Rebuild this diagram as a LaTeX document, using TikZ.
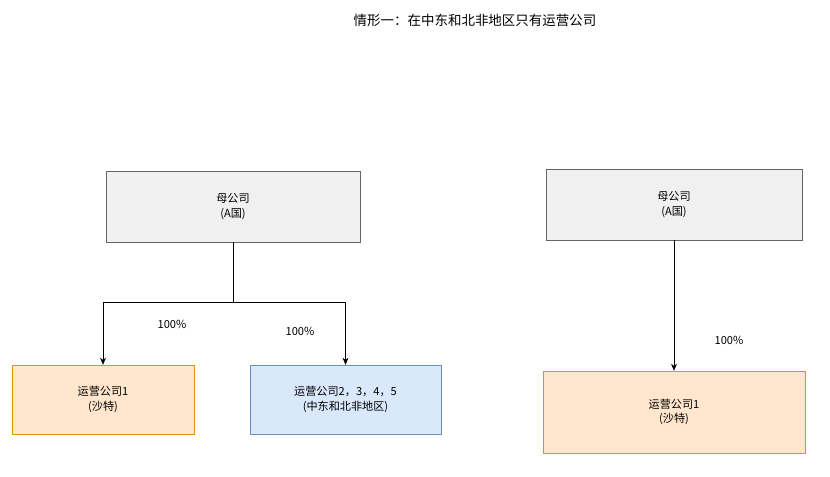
\documentclass[tikz,border=0pt]{standalone}
\usepackage{fontspec}
\newfontfamily\cjk{Noto Sans CJK SC}
\usetikzlibrary{positioning, calc, arrows.meta}
\definecolor{grayfill}{HTML}{F0F0F0}
\definecolor{grayline}{HTML}{666666}
\definecolor{orangefill}{HTML}{FFE6CC}
\definecolor{orangeline}{HTML}{D79B00}
\definecolor{bluefill}{HTML}{DAE8FC}
\definecolor{blueline}{HTML}{6C8EBF}
\tikzset{
   box/.style={
     draw, align=center, font=\cjk\fontsize{9.5}{12.5}\selectfont, inner sep=0pt
   },
   parent/.style={
      box, fill=grayfill, draw=grayline,
      minimum width=254*0.03cm, minimum height=71*0.03cm
   },
   company/.style={
      box, fill=orangefill, draw=orangeline
   },
   region/.style={
      box, fill=bluefill, draw=blueline
   },
   share/.style={font=\cjk\fontsize{9.5}{12}\selectfont},
   ownline/.style={-{Stealth[length=6pt,width=5pt]}, black}
}
\begin{document}
\begin{tikzpicture}[x=0.03cm, y=-0.03cm]
   \useasboundingbox (0,0) rectangle (830,477);
   \node[share, font=\cjk\fontsize{11.5}{14}\selectfont] (title) at (475,20) {情形一：在中东和北非地区只有运营公司};

   % left case
   \node[parent] (mother) at (233,206.5) {母公司\\(A国)};
   \node[company, minimum width=182*0.03cm, minimum height=69*0.03cm]
      (saudi) at (103,399.5) {运营公司1\\(沙特)};
   \node[region, minimum width=191*0.03cm, minimum height=69*0.03cm]
      (mena) at (345.5,399.5) {运营公司2，3，4，5\\(中东和北非地区)};
   \coordinate (fork) at (233,302);

   \draw (mother) -- (fork);
   \draw[ownline] (fork) -| (saudi);
   \draw[ownline] (fork) -| (mena);
   \node[share] (shareA) at (172,324) {100\%};
   \node[share] (shareB) at (300,331) {100\%};

   % right case
   \node[parent, minimum width=256*0.03cm] (mother2) at (674,204.5) {母公司\\(A国)};
   \node[company, minimum width=262*0.03cm, minimum height=82*0.03cm]
      (saudi2) at (674,412) {运营公司1\\(沙特)};
   \draw[ownline] (mother2) -- (saudi2);
   \node[share] (shareC) at (729,340) {100\%};
\end{tikzpicture}
\end{document}
